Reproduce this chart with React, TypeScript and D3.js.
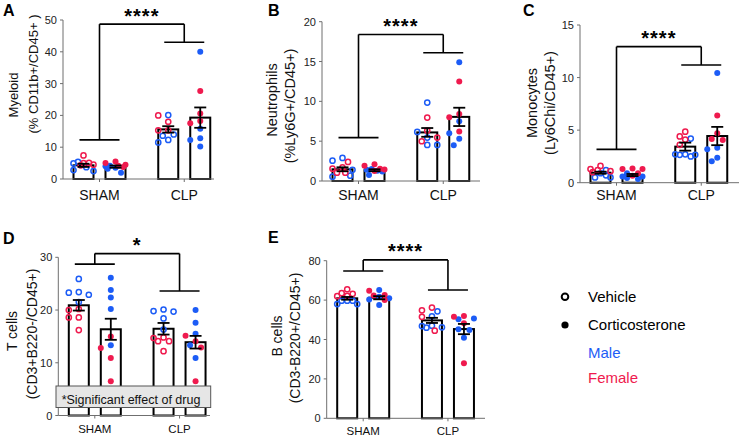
import React from "react";
import * as d3 from "d3";

// ---------- data ----------
const groups = ["SHAM", "CLP"];
const treatments = ["Vehicle", "Corticosterone"];
// bar order: SHAM-Vehicle, SHAM-Corticosterone, CLP-Vehicle, CLP-Corticosterone

const myeloidMean = [4.3, 3.9, 15.6, 19.3];
const myeloidSem = [0.5, 0.35, 1.0, 3.2];
const myeloidMale = [
  [5.4, 4.9, 3.7, 2.8, 2.5],
  [4.2, 4.0, 3.5, 3.2, 2.0],
  [20.1, 14.0, 11.5, 12.3, 13.6],
  [40.0, 15.8, 12.8, 12.3, 10.2],
];
const myeloidFemale = [
  [7.4, 5.1, 4.5, 4.3, 5.0],
  [5.5, 5.0, 4.5, 4.2, 3.8],
  [20.0, 18.0, 15.3, 15.3],
  [27.7, 20.6, 17.5, 18.2],
];
const myeloidBrackets = [12.3, 43, 48.7];

const neutroMean = [1.47, 1.35, 6.1, 8.05];
const neutroSem = [0.25, 0.12, 0.55, 1.15];
const neutroMale = [
  [2.9, 2.55, 0.67, 0.54, 1.4],
  [1.4, 1.3, 1.2, 0.75, 1.5],
  [9.85, 6.16, 5.45, 4.53, 4.53],
  [14.9, 7.5, 6.0, 5.3, 4.5],
];
const neutroFemale = [
  [2.4, 1.7, 1.55, 1.05, 1.05],
  [2.1, 1.9, 1.55, 1.26, 1.45],
  [7.96, 6.33, 5.45, 4.99],
  [12.5, 8.4, 8.0, 6.2],
];
const neutroBrackets = [5.45, 16.1, 18.4];

const monoMean = [0.95, 0.73, 3.43, 4.44];
const monoSem = [0.1, 0.1, 0.38, 0.87];
const monoMale = [
  [1.2, 0.9, 0.5, 0.5, 0.7],
  [0.9, 0.45, 0.6, 0.6, 0.35],
  [4.2, 2.5, 2.7, 2.65, 2.65, 2.7],
  [10.44, 3.17, 3.33, 2.03, 2.38],
];
const monoFemale = [
  [1.6, 1.3, 1.2, 1.1, 1.0],
  [1.3, 1.35, 1.3, 0.9, 0.65],
  [4.85, 4.4, 4.1, 3.6],
  [6.38, 4.7, 4.06, 4.16],
];
const monoBrackets = [3.17, 11.2, 12.94];

const tcellMean = [20.9, 16.35, 16.45, 13.9];
const tcellSem = [1.0, 2.0, 1.1, 1.2];
const tcellMale = [
  [25.9, 23.3, 23.4, 22.9, 21.5],
  [26.1, 23.8, 22.4, 20.2, 13.3],
  [19.8, 20.1, 19.7, 18.4, 16.3],
  [20.0, 17.6, 15.5, 13.3, 10.9],
];
const tcellFemale = [
  [20.2, 20.0, 18.6, 18.6, 16.2],
  [15.0, 12.8, 10.9, 6.5],
  [14.7, 14.1, 14.1, 12.2, 14.8],
  [15.1, 14.1, 12.9, 6.5],
];
const tcellBrackets = [28.7, 23.6, 30.7];

const bcellMean = [60.9, 61.2, 49.7, 45.3];
const bcellSem = [0.7, 0.8, 1.3, 2.6];
const bcellMale = [
  [58.0, 59.7, 59.7, 59.7, 58.0],
  [65.1, 61.7, 60.9, 60.3, 57.5],
  [54.3, 51.8, 47.0, 46.2, 46.0, 46.8],
  [50.3, 50.6, 44.8, 45.2, 40.9],
];
const bcellFemale = [
  [65.5, 63.5, 63.2, 62.2, 62.0],
  [64.8, 62.6, 62.3, 60.0],
  [56.2, 54.8, 51.5, 44.5],
  [51.6, 51.9, 48.2, 27.9],
];
const bcellBrackets = [74.8, 65.1, 80.4];

const legendItems = ["Vehicle", "Corticosterone"];
const legendSex = ["Male", "Female"];
const noteText = "*Significant effect of drug";

// ---------- styling / layout ----------
const FONT = "'Liberation Sans', Arial, Helvetica, sans-serif";
const BLUE = "#1c5cf6";
const RED = "#ef1a4e";
const AXIS = "#6f6f6f";

type Panel = {
  letter: string;
  mean: number[];
  sem: number[];
  male: number[][];
  female: number[][];
  brackets: number[];
  sig: string;
  yMax: number;
  yStep: number;
  labels: { text: string; x: number; y: number }[];
  labelSize: number;
  ax: number;
  y0: number;
  yTop: number;
  axEnd: number;
  letterPos: [number, number];
  xLabelY: number;
  xLabelSize: number;
};

const panels: Panel[] = [
  {
    letter: "A", mean: myeloidMean, sem: myeloidSem, male: myeloidMale, female: myeloidFemale,
    brackets: myeloidBrackets, sig: "****", yMax: 50, yStep: 10,
    labels: [{ text: "Myeloid", x: 13, y: 95 }, { text: "(% CD11b+/CD45+ )", x: 33, y: 74 }],
    labelSize: 13, ax: 63, y0: 179, yTop: 20, axEnd: 214, letterPos: [3, 16], xLabelY: 200, xLabelSize: 14,
  },
  {
    letter: "B", mean: neutroMean, sem: neutroSem, male: neutroMale, female: neutroFemale,
    brackets: neutroBrackets, sig: "****", yMax: 20, yStep: 5,
    labels: [{ text: "Neutrophils", x: 272, y: 100 }, { text: "(%Ly6G+/CD45+)", x: 290, y: 106 }],
    labelSize: 14.5, ax: 322, y0: 181, yTop: 21.7, axEnd: 480, letterPos: [268, 16], xLabelY: 200, xLabelSize: 14,
  },
  {
    letter: "C", mean: monoMean, sem: monoSem, male: monoMale, female: monoFemale,
    brackets: monoBrackets, sig: "****", yMax: 15, yStep: 5,
    labels: [{ text: "Monocytes", x: 532, y: 103 }, { text: "(Ly6Chi/CD45+)", x: 550, y: 103 }],
    labelSize: 14.5, ax: 580, y0: 182.7, yTop: 25, axEnd: 739, letterPos: [523, 16], xLabelY: 200, xLabelSize: 14,
  },
  {
    letter: "D", mean: tcellMean, sem: tcellSem, male: tcellMale, female: tcellFemale,
    brackets: tcellBrackets, sig: "*", yMax: 30, yStep: 10,
    labels: [{ text: "T cells", x: 12, y: 331 }, { text: "(CD3+B220-/CD45+)", x: 32, y: 334 }],
    labelSize: 14, ax: 58.3, y0: 415.5, yTop: 257.3, axEnd: 210, letterPos: [3, 244], xLabelY: 433.3, xLabelSize: 11.5,
  },
  {
    letter: "E", mean: bcellMean, sem: bcellSem, male: bcellMale, female: bcellFemale,
    brackets: bcellBrackets, sig: "****", yMax: 80, yStep: 20,
    labels: [{ text: "B cells", x: 277, y: 336 }, { text: "(CD3-B220+/CD45+)", x: 295, y: 338 }],
    labelSize: 14, ax: 326.7, y0: 418.3, yTop: 260.7, axEnd: 485, letterPos: [268, 243], xLabelY: 435, xLabelSize: 11.5,
  },
];

const R_OPEN = 2.6;
const R_FILL = 3;

function dodge(ys: number[], r: number): number[] {
  const order = ys.map((_, i) => i).sort((a, b) => ys[a] - ys[b]);
  const placed: { x: number; y: number }[] = [];
  const res: number[] = new Array(ys.length).fill(0);
  const cands = [0, -5.5, 5.5, -10, 10, -2.8, 2.8, -7.8, 7.8];
  for (const i of order) {
    const py = ys[i];
    let best = 0;
    let bestD = -1;
    for (const c of cands) {
      let md = Infinity;
      for (const p of placed) md = Math.min(md, Math.hypot(p.x - c, p.y - py));
      if (md >= 2 * r + 0.6) { best = c; break; }
      if (md > bestD) { bestD = md; best = c; }
    }
    placed.push({ x: best, y: py });
    res[i] = best;
  }
  return res;
}

function PanelView({ p }: { p: Panel }) {
  const y = d3.scaleLinear().domain([0, p.yMax]).range([p.y0, p.yTop]);
  const xg = d3.scalePoint<string>().domain(groups).range([p.ax + 36.5, p.ax + 121.25]);
  const xt = d3.scalePoint<string>().domain(treatments).range([-16, 16]);
  const barX = (i: number) => (xg(groups[Math.floor(i / 2)]) as number) + (xt(treatments[i % 2]) as number);
  const ticks = d3.range(0, p.yMax + 1e-9, p.yStep);
  const bw = 20;
  const isD = p.letter === "D";

  const gc0 = xg(groups[0]) as number;
  const gc1 = xg(groups[1]) as number;
  const yb0 = y(p.brackets[0]);
  const yb1 = y(p.brackets[1]);
  const ytop = y(p.brackets[2]);

  return (
    <g>
      <text x={p.letterPos[0]} y={p.letterPos[1]} fontSize={16} fontWeight="bold" fill="#000">{p.letter}</text>
      {p.labels.map((l, i) => (
        <text key={i} transform={`translate(${l.x},${l.y}) rotate(-90)`} textAnchor="middle"
          dominantBaseline="central" fontSize={p.labelSize} fill="#111">{l.text}</text>
      ))}
      {/* y axis */}
      <line x1={p.ax} x2={p.ax} y1={y(0)} y2={y(p.yMax)} stroke={AXIS} strokeWidth={1} />
      {ticks.map((t) => (
        <g key={t}>
          <line x1={p.ax - 3} x2={p.ax} y1={y(t)} y2={y(t)} stroke={AXIS} strokeWidth={1} />
          <text x={p.ax - 6} y={y(t)} textAnchor="end" dominantBaseline="central" fontSize={11} fill="#222">{t}</text>
        </g>
      ))}
      {/* bars */}
      {p.mean.map((m, i) => (
        <rect key={i} x={barX(i) - bw / 2} y={y(m)} width={bw} height={y(0) - y(m)} fill="#fff" stroke="#000" strokeWidth={2} />
      ))}
      {/* x axis */}
      <line x1={p.ax} x2={p.axEnd} y1={p.y0} y2={p.y0} stroke={AXIS} strokeWidth={1} />
      {groups.map((g) => (
        <g key={g}>
          <line x1={xg(g) as number} x2={xg(g) as number} y1={p.y0} y2={p.y0 + 3} stroke={AXIS} strokeWidth={1} />
          <text x={xg(g) as number} y={p.xLabelY} textAnchor="middle" fontSize={p.xLabelSize} fill="#111">{g}</text>
        </g>
      ))}
      {/* points */}
      {p.mean.map((_, i) => {
        const vals = [...p.male[i], ...p.female[i]];
        const cols = [...p.male[i].map(() => BLUE), ...p.female[i].map(() => RED)];
        const ys = vals.map((v) => y(v));
        const offs = dodge(ys, i % 2 === 0 ? R_OPEN + 0.3 : R_FILL);
        const open = i % 2 === 0;
        return (
          <g key={i}>
            {vals.map((v, j) =>
              open ? (
                <circle key={j} cx={barX(i) + offs[j]} cy={ys[j]} r={R_OPEN} fill="none" stroke={cols[j]} strokeWidth={1.5} />
              ) : (
                <circle key={j} cx={barX(i) + offs[j]} cy={ys[j]} r={R_FILL} fill={cols[j]} />
              )
            )}
          </g>
        );
      })}
      {/* error bars */}
      {p.mean.map((m, i) => {
        const cx = barX(i);
        const hi = y(m + p.sem[i]);
        const lo = y(m - p.sem[i]);
        return (
          <g key={i} stroke="#000" strokeWidth={1.8}>
            <line x1={cx} x2={cx} y1={hi} y2={lo} />
            <line x1={cx - 6} x2={cx + 6} y1={hi} y2={hi} />
            <line x1={cx - 6} x2={cx + 6} y1={lo} y2={lo} />
          </g>
        );
      })}
      {/* significance brackets */}
      <g stroke="#000" strokeWidth={1.6} fill="none">
        <line x1={gc0 - 20} x2={gc0 + 20} y1={yb0} y2={yb0} />
        <line x1={gc0} x2={gc0} y1={yb0} y2={ytop} />
        <line x1={gc1 - 20} x2={gc1 + 20} y1={yb1} y2={yb1} />
        <line x1={gc1} x2={gc1} y1={yb1} y2={ytop} />
        <line x1={gc0} x2={gc1} y1={ytop} y2={ytop} />
      </g>
      <text x={(gc0 + gc1) / 2} y={ytop - 1.5} textAnchor="middle" fontSize={20} fontWeight="bold" fill="#000"
        letterSpacing={1}>{p.sig}</text>
      {isD && (
        <g>
          <rect x={56} y={386} width={154.7} height={21.5} fill="#e6e6e6" stroke="#555" strokeWidth={1} />
          <text x={131} y={403.5} textAnchor="middle" fontSize={12.5} fill="#111">{noteText}</text>
        </g>
      )}
    </g>
  );
}

export default function App() {
  return (
    <svg width={739} height={436} style={{ position: "absolute", left: 0, top: 0, background: "#fff" }}
      fontFamily={FONT}>
      <rect x={0} y={0} width={739} height={436} fill="#fff" />
      {panels.map((p) => (
        <PanelView key={p.letter} p={p} />
      ))}
      {/* legend */}
      <circle cx={565} cy={296.7} r={3.3} fill="none" stroke="#000" strokeWidth={2} />
      <circle cx={565} cy={325} r={3.6} fill="#000" />
      <text x={588} y={302.3} fontSize={15} fill="#000">{legendItems[0]}</text>
      <text x={588} y={330} fontSize={15} fill="#000">{legendItems[1]}</text>
      <text x={588} y={357.7} fontSize={15} fill={BLUE}>{legendSex[0]}</text>
      <text x={588} y={383.3} fontSize={15} fill={RED}>{legendSex[1]}</text>
    </svg>
  );
}
